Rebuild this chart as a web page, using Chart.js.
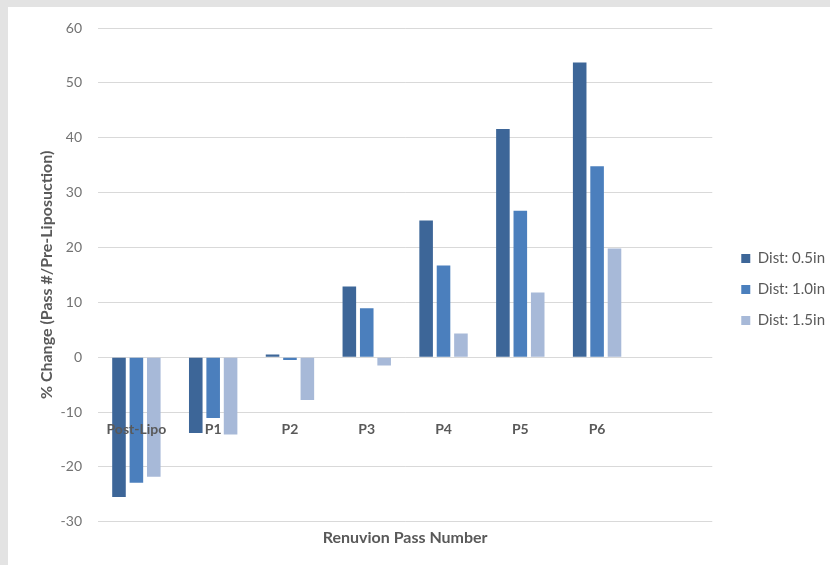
<!DOCTYPE html>
<html>
<head>
<meta charset="utf-8">
<script src="https://cdn.jsdelivr.net/npm/chart.js@4/dist/chart.umd.min.js"></script>
<style>
  html, body { margin: 0; padding: 0; background: #e3e3e3; }
  #panel { position: absolute; left: 8px; top: 7px; width: 822px; height: 558px; background: #ffffff; }
  canvas { display: block; }
</style>
</head>
<body>
<div id="panel"><canvas id="chart" width="822" height="558"></canvas></div>
<script>
// Pass categories (last slot left empty, as in the original worksheet range)
const categories = ["Post-Lipo", "P1", "P2", "P3", "P4", "P5", "P6", ""];

// % change relative to pre-liposuction, per treatment distance
const dist05 = [-25.5, -13.8, 0.5, 12.9, 24.9, 41.6, 53.7];
const dist10 = [-22.9, -11.1, -0.5, 8.9, 16.7, 26.7, 34.8];
const dist15 = [-21.8, -14.1, -7.8, -1.5, 4.3, 11.8, 19.8];

const seriesNames = ["Dist: 0.5in", "Dist: 1.0in", "Dist: 1.5in"];

const FONT = "Lato, 'Open Sans', sans-serif";

// Nudges the legend block to the right of the plot
const legendShift = {
  id: 'legendShift',
  afterLayout(chart) {
    if (chart.legend) {
      chart.legend.left += 13;
      chart.legend.right += 13;
      chart.legend.top += 2;
      chart.legend.bottom += 2;
    }
  }
};

new Chart(document.getElementById('chart'), {
  type: 'bar',
  data: {
    labels: categories,
    datasets: [
      { label: seriesNames[0], data: dist05, backgroundColor: '#3d6698' },
      { label: seriesNames[1], data: dist10, backgroundColor: '#4b7fbd' },
      { label: seriesNames[2], data: dist15, backgroundColor: '#a7b9d8' }
    ]
  },
  options: {
    responsive: false,
    animation: false,
    datasets: { bar: { categoryPercentage: 0.68, barPercentage: 0.78 } },
    layout: { padding: { left: 0, top: 21, right: 8, bottom: 18 } },
    scales: {
      x: {
        type: 'category',
        position: 'bottom',
        offset: true,
        grid: { display: false, drawTicks: false },
        border: { display: false },
        ticks: { display: false },
        title: {
          display: true,
          text: 'Renuvion Pass Number',
          color: '#595959',
          font: { family: FONT, size: 16, weight: 'bold' },
          padding: { top: 6, bottom: 0 }
        }
      },
      xCat: {
        type: 'category',
        labels: categories,
        position: { y: -11.6 },
        offset: true,
        grid: { display: false, drawTicks: false },
        border: { display: false },
        ticks: {
          z: 1,
          color: '#595959',
          padding: 0,
          autoSkip: false,
          maxRotation: 0,
          font: { family: FONT, size: 14, weight: 'bold' }
        }
      },
      y: {
        min: -30,
        max: 60,
        afterFit(scale) { scale.width = 90; },
        grid: { color: '#d9d9d9', lineWidth: 1, drawTicks: true, tickLength: 16, tickColor: 'rgba(0,0,0,0)' },
        border: { display: false },
        ticks: {
          stepSize: 10,
          padding: 0,
          color: '#737373',
          font: { family: FONT, size: 14 }
        },
        title: {
          display: true,
          text: '% Change (Pass #/Pre-Liposuction)',
          color: '#595959',
          font: { family: FONT, size: 16, weight: 'bold' },
          padding: { top: 29, bottom: 0 }
        }
      }
    },
    plugins: {
      tooltip: { enabled: false },
      legend: {
        position: 'right',
        align: 'center',
        labels: {
          boxWidth: 9,
          boxHeight: 9,
          padding: 16,
          color: '#595959',
          font: { family: FONT, size: 15 }
        }
      }
    }
  },
  plugins: [legendShift]
});
</script>
</body>
</html>
